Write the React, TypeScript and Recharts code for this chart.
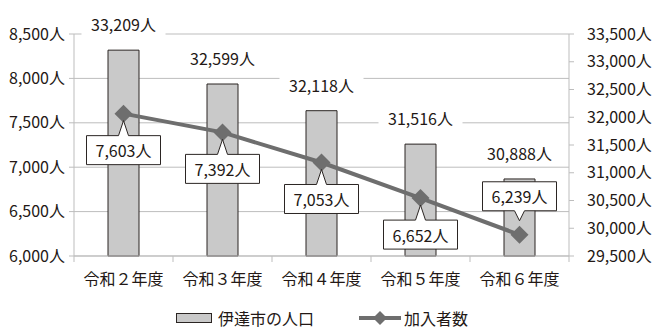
import React from "react";
import {
  ComposedChart,
  Bar,
  Line,
  XAxis,
  YAxis,
  CartesianGrid,
  Legend,
  LabelList,
} from "recharts";

const years = ["令和２年度", "令和３年度", "令和４年度", "令和５年度", "令和６年度"];
const population = [33209, 32599, 32118, 31516, 30888];
const members = [7603, 7392, 7053, 6652, 6239];
const leftTicks = [6000, 6500, 7000, 7500, 8000, 8500];
const rightTicks = [29500, 30000, 30500, 31000, 31500, 32000, 32500, 33000, 33500];
// where the callout sits relative to its point
const calloutAbove = [false, false, false, false, true];

const FONT = '"Noto Sans CJK JP", "Noto Sans", sans-serif';
const FS = 16;
const TEXT = "#231815";
const GRID = "#bdbdbd";
const BAR_FILL = "#c9c9c9";
const BAR_EDGE = "#2b2523";
const LINE = "#6e6e6e";

const data = years.map((year, i) => ({
  year,
  population: population[i],
  members: members[i],
}));

const fmt = (v: number) => `${Number(v).toLocaleString("en-US")}人`;

const diamond = (cx: number, cy: number, r: number) =>
  `M${cx},${cy - r} L${cx + r},${cy} L${cx},${cy + r} L${cx - r},${cy} Z`;

function PopLabel(props: any) {
  const { x, y, width, value } = props;
  const cx = x + width / 2;
  const cy = y - 26;
  return (
    <g>
      <rect x={cx - 42} y={cy - 11} width={84} height={22} fill="#fff" />
      <text
        x={cx}
        y={cy}
        textAnchor="middle"
        dominantBaseline="central"
        fontFamily={FONT}
        fontSize={FS}
        fill={TEXT}
      >
        {fmt(value)}
      </text>
    </g>
  );
}

function MemberLabel(props: any) {
  const { x, y, value, index } = props;
  const w = 74;
  const h = 29;
  const left = x - w / 2;
  const above = calloutAbove[index];
  let d: string;
  let top: number;
  if (above) {
    top = y - 24 - h;
    const bottom = top + h;
    d = `M${left},${top} L${left + w},${top} L${left + w},${bottom} L${x + 5},${bottom} L${x},${y - 14} L${x - 5},${bottom} L${left},${bottom} Z`;
  } else {
    top = y + 22;
    const bottom = top + h;
    d = `M${left},${top} L${x - 5},${top} L${x},${y + 7} L${x + 5},${top} L${left + w},${top} L${left + w},${bottom} L${left},${bottom} Z`;
  }
  return (
    <g>
      <path d={d} fill="#fff" stroke={BAR_EDGE} strokeWidth={1} />
      <text
        x={x}
        y={top + h / 2}
        textAnchor="middle"
        dominantBaseline="central"
        fontFamily={FONT}
        fontSize={FS}
        fill={TEXT}
      >
        {fmt(value)}
      </text>
    </g>
  );
}

function YearTick(props: any) {
  const { x, y, payload, index, visibleTicksCount } = props;
  const half = payload && payload.offset ? payload.offset : 49.5;
  const last = index === (visibleTicksCount ?? years.length) - 1;
  return (
    <g>
      <line x1={x - half} x2={x - half} y1={y} y2={y + 6} stroke={GRID} />
      {last && <line x1={x + half} x2={x + half} y1={y} y2={y + 6} stroke={GRID} />}
      <text
        x={x}
        y={y + 22}
        textAnchor="middle"
        dominantBaseline="central"
        fontFamily={FONT}
        fontSize={FS}
        fill={TEXT}
      >
        {payload.value}
      </text>
    </g>
  );
}

function LegendContent(props: any) {
  const items = props.payload || [];
  return (
    <div
      style={{
        display: "flex",
        justifyContent: "center",
        alignItems: "center",
        height: 24,
        lineHeight: "24px",
        paddingRight: 16,
        fontFamily: FONT,
        fontSize: FS,
        color: TEXT,
      }}
    >
      {items.map((it: any, i: number) =>
        it.type === "line" ? (
          <span key={i} style={{ display: "flex", alignItems: "center", marginLeft: i ? 45 : 0 }}>
            <svg width={42} height={18}>
              <line x1={0} y1={9} x2={42} y2={9} stroke={LINE} strokeWidth={4} />
              <path d={diamond(21, 9, 7)} fill={LINE} />
            </svg>
            <span style={{ marginLeft: 3 }}>{it.value}</span>
          </span>
        ) : (
          <span key={i} style={{ display: "flex", alignItems: "center", marginLeft: i ? 45 : 0 }}>
            <svg width={36} height={10}>
              <rect x={0.5} y={0.5} width={35} height={9} fill={BAR_FILL} stroke={BAR_EDGE} />
            </svg>
            <span style={{ marginLeft: 6 }}>{it.value}</span>
          </span>
        )
      )}
    </div>
  );
}

export default function App() {
  return (
    <div style={{ position: "absolute", left: 0, top: 0, background: "#fff" }}>
      <ComposedChart
        width={660}
        height={330}
        data={data}
        margin={{ top: 34, right: 0, bottom: 0, left: 0 }}
      >
        <CartesianGrid yAxisId="left" vertical={false} stroke={GRID} />
        <XAxis
          dataKey="year"
          height={50}
          tickLine={false}
          tickSize={0}
          tickMargin={0}
          axisLine={{ stroke: GRID }}
          tick={<YearTick />}
          interval={0}
        />
        <YAxis
          yAxisId="left"
          width={74}
          domain={[6000, 8500]}
          ticks={leftTicks}
          interval={0}
          tickFormatter={fmt}
          tickSize={5}
          tickMargin={4}
          tickLine={{ stroke: GRID }}
          axisLine={{ stroke: GRID }}
          tick={{ fill: TEXT, fontSize: FS, fontFamily: FONT }}
        />
        <YAxis
          yAxisId="right"
          orientation="right"
          width={91}
          domain={[29500, 33500]}
          ticks={rightTicks}
          interval={0}
          tickFormatter={fmt}
          tickSize={5}
          tickMargin={13}
          tickLine={{ stroke: GRID }}
          axisLine={{ stroke: GRID }}
          tick={{ fill: TEXT, fontSize: FS, fontFamily: FONT, textAnchor: "start" }}
        />
        <Legend verticalAlign="bottom" content={<LegendContent />} />
        <Bar
          yAxisId="right"
          dataKey="population"
          name="伊達市の人口"
          fill={BAR_FILL}
          stroke={BAR_EDGE}
          strokeWidth={1}
          barSize={31}
          isAnimationActive={false}
        >
          <LabelList dataKey="population" content={<PopLabel />} />
        </Bar>
        <Line
          yAxisId="left"
          dataKey="members"
          name="加入者数"
          stroke={LINE}
          strokeWidth={4}
          dot={(p: any) => <path key={p.index} d={diamond(p.cx, p.cy, 9)} fill={LINE} />}
          activeDot={false}
          isAnimationActive={false}
        >
          <LabelList dataKey="members" content={<MemberLabel />} />
        </Line>
      </ComposedChart>
    </div>
  );
}
